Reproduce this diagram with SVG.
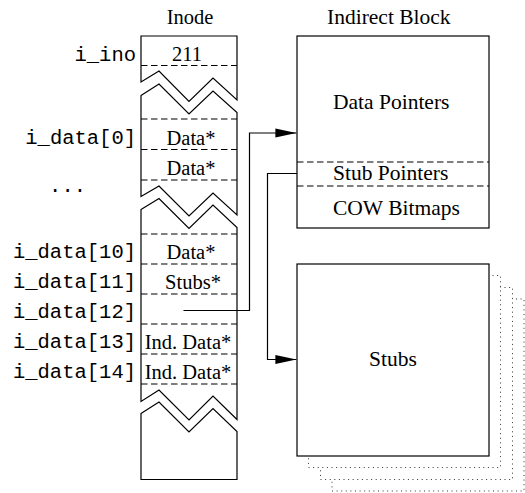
<svg xmlns="http://www.w3.org/2000/svg" width="525" height="493" viewBox="0 0 525 493">
  <style>
    .serif { font-family: "Liberation Serif", "Times New Roman", serif; font-size: 20.5px; fill: #000; }
    .big { font-size: 21.5px; }
    .mono { font-family: "Liberation Mono", "Courier New", monospace; font-size: 20.5px; fill: #000; text-anchor: end; }
    .mid { text-anchor: middle; }
    .solid { fill: #fff; stroke: #000; stroke-width: 1.2; stroke-linejoin: miter; }
    .dash { fill: none; stroke: #000; stroke-width: 1.1; stroke-dasharray: 6.5 3.5; }
    .dots { fill: #fff; stroke: #333; stroke-width: 1; stroke-dasharray: 1 3.6; }
    .wire { fill: none; stroke: #000; stroke-width: 1.2; }
  </style>
  <defs>
    <marker id="head" markerWidth="22" markerHeight="10" refX="21" refY="5" orient="auto" markerUnits="userSpaceOnUse">
      <path d="M0,0.5 L21,5 L0,9.5 Z" fill="#000"/>
    </marker>
  </defs>

  <rect width="525" height="493" fill="#fff"/>

  <!-- Inode column, drawn as four pieces separated by break marks -->
  <g id="inode">
    <text class="serif mid" x="190" y="24">Inode</text>
    <path class="solid" d="M141,82 L141,36 L237,36 L237,100 L213,78 L189,101.5 L159,71 Z"/>
    <path class="solid" d="M141,95.5 L159,84 L189,114 L213,91 L237,112.5 L237,215 L213,193 L189,216 L159,186 L141,196.5 Z"/>
    <path class="solid" d="M141,209.5 L159,198.5 L189,228.5 L213,205 L237,227.5 L237,419.5 L213,396 L189,420 L159,390 L141,401.5 Z"/>
    <path class="solid" d="M141,413.5 L159,402 L189,432 L213,408.5 L237,431.5 L237,479.5 L141,479.5 Z"/>
    <g class="dash">
      <line x1="141" y1="65.5" x2="237" y2="65.5"/>
      <line x1="141" y1="119" x2="237" y2="119"/>
      <line x1="141" y1="149.5" x2="237" y2="149.5"/>
      <line x1="141" y1="180" x2="237" y2="180"/>
      <line x1="141" y1="234" x2="237" y2="234"/>
      <line x1="141" y1="264" x2="237" y2="264"/>
      <line x1="141" y1="294" x2="237" y2="294"/>
      <line x1="141" y1="324" x2="237" y2="324"/>
      <line x1="141" y1="354" x2="237" y2="354"/>
      <line x1="141" y1="384" x2="237" y2="384"/>
    </g>
    <text class="serif mid" x="187" y="60.5">211</text>
    <text class="serif mid" x="191" y="144.5">Data*</text>
    <text class="serif mid" x="191" y="174.5">Data*</text>
    <text class="serif mid" x="191" y="258.5">Data*</text>
    <text class="serif mid" x="193" y="288.5">Stubs*</text>
    <text class="serif mid" x="188" y="348.5">Ind. Data*</text>
    <text class="serif mid" x="188" y="378.5">Ind. Data*</text>
  </g>

  <!-- Field names beside the inode -->
  <g id="fields">
    <text class="mono" x="136" y="60.5">i_ino</text>
    <text class="mono" x="136" y="144">i_data[0]</text>
    <text class="mono" x="86" y="192">...</text>
    <text class="mono" x="136" y="258">i_data[10]</text>
    <text class="mono" x="136" y="288">i_data[11]</text>
    <text class="mono" x="136" y="318">i_data[12]</text>
    <text class="mono" x="136" y="348">i_data[13]</text>
    <text class="mono" x="136" y="378">i_data[14]</text>
  </g>

  <!-- Indirect block -->
  <g id="indirect">
    <text class="serif big" x="327" y="24">Indirect Block</text>
    <rect class="solid" x="297" y="36" width="192" height="192"/>
    <line class="dash" x1="297" y1="162" x2="489" y2="162"/>
    <line class="dash" x1="297" y1="186" x2="489" y2="186"/>
    <text class="serif big" x="333" y="108.5">Data Pointers</text>
    <text class="serif big" x="333" y="180">Stub Pointers</text>
    <text class="serif big" x="333" y="215">COW Bitmaps</text>
  </g>

  <!-- Stub blocks, stacked -->
  <g id="stubs">
    <rect class="dots" x="332" y="299" width="192" height="192"/>
    <rect class="dots" x="320.5" y="287.5" width="192" height="192"/>
    <rect class="dots" x="308.5" y="275.5" width="192" height="192"/>
    <rect class="solid" x="297" y="264" width="192" height="192"/>
    <text class="serif big mid" x="393" y="366">Stubs</text>
  </g>

  <!-- Pointers -->
  <g id="connectors">
    <path class="wire" d="M183.5,310.5 H249.5 V133 H296.4" marker-end="url(#head)"/>
    <path class="wire" d="M297,173.5 H267.5 V359.5 H296.4" marker-end="url(#head)"/>
  </g>
</svg>
